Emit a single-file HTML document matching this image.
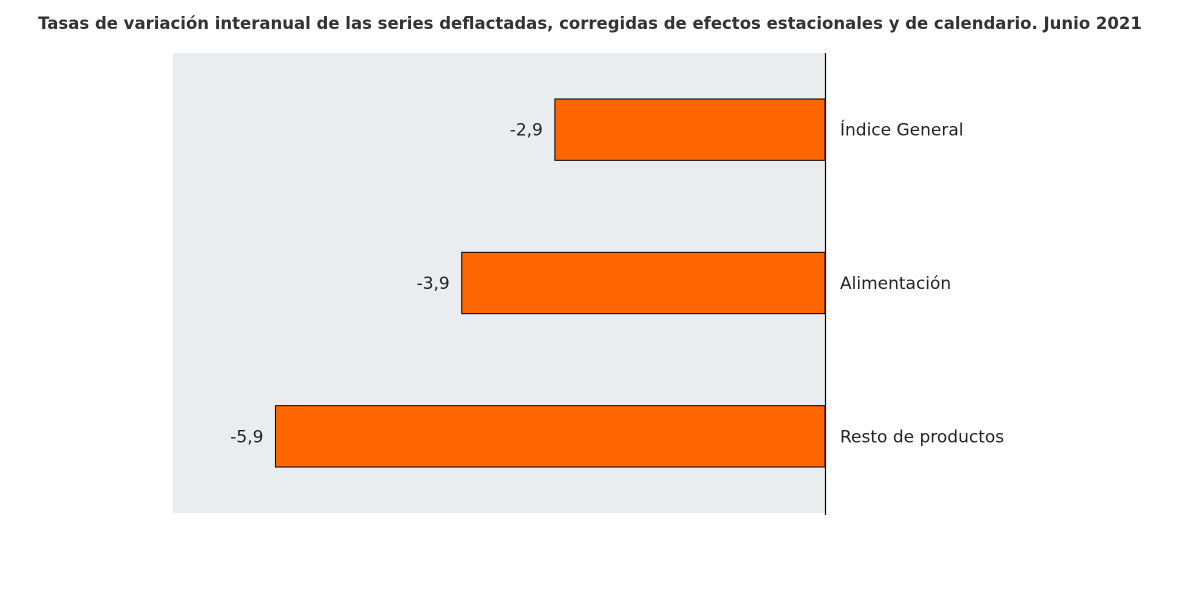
<!DOCTYPE html>
<html><head><meta charset="utf-8"><style>
html,body{margin:0;padding:0;background:#fff;width:1200px;height:602px;overflow:hidden}
svg{display:block}
text{font-family:"DejaVu Sans","Liberation Sans",sans-serif}
</style></head><body>
<svg id="chart" width="1200" height="602">
<text x="590" y="29" text-anchor="middle" font-size="16.5" font-weight="bold" fill="#333" font-family="Liberation Sans, sans-serif">Tasas de variación interanual de las series deflactadas, corregidas de efectos estacionales y de calendario. Junio 2021</text>
<rect x="173" y="53" width="652" height="460" fill="#eaedf0"/>
<g id="bars"></g>
<line x1="825.5" y1="53" x2="825.5" y2="515" stroke="#000" stroke-width="1.2"/>
</svg>
<script>
const categories = ["Índice General", "Alimentación", "Resto de productos"];
const values = [-2.9, -3.9, -5.9];
const valueLabels = ["-2,9", "-3,9", "-5,9"];
const domainMin = -7, domainMax = 0;
const plotL = 173, plotR = 825, plotT = 53, plotB = 513;
function xScale(v){ return plotL + (v - domainMin) / (domainMax - domainMin) * (plotR - plotL); }
const band = (plotB - plotT) / categories.length;
function yCenter(i){ return plotT + band * (i + 0.5); }
const ns = "http://www.w3.org/2000/svg";
const g = document.getElementById("bars");
const barH = band * 0.4;
categories.forEach((c, i) => {
  const x0 = xScale(0), x1 = xScale(values[i]);
  const yc = yCenter(i);
  const r = document.createElementNS(ns, "rect");
  r.setAttribute("x", Math.min(x0, x1));
  r.setAttribute("y", yc - barH / 2);
  r.setAttribute("width", Math.abs(x0 - x1));
  r.setAttribute("height", barH);
  r.setAttribute("fill", "#ff6600");
  r.setAttribute("stroke", "#000");
  r.setAttribute("stroke-width", "1");
  
  
  g.appendChild(r);
  const vl = document.createElementNS(ns, "text");
  vl.setAttribute("x", Math.min(x0, x1) - 12);
  vl.setAttribute("y", yc + 6);
  vl.setAttribute("text-anchor", "end");
  vl.setAttribute("font-size", "17");
  vl.setAttribute("fill", "#222");
  vl.textContent = valueLabels[i];
  
  
  g.appendChild(vl);
  const cl = document.createElementNS(ns, "text");
  cl.setAttribute("x", x0 + 15);
  cl.setAttribute("y", yc + 6);
  cl.setAttribute("font-size", "17");
  cl.setAttribute("fill", "#222");
  cl.textContent = c;
  
  
  g.appendChild(cl);
});
</script>
</body></html>
